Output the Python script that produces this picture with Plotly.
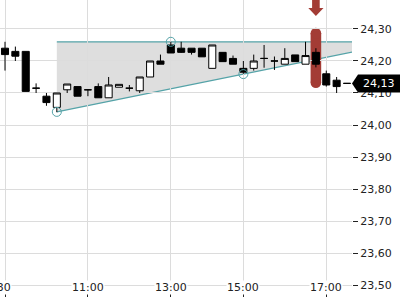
import plotly.graph_objects as go

# ---- data ----
bar_idx = list(range(34))
opens  = [24.24, 24.23, 24.23, 24.115, 24.09, 24.055, 24.11, 24.12, 24.11, 24.12,
          24.085, 24.118, 24.115, 24.107, 24.15, 24.20, 24.25, 24.24, 24.24, 24.24,
          24.177, 24.227, 24.208, 24.177, 24.177, 24.208, 24.20, 24.19, 24.219, 24.19,
          24.227, 24.16, 24.14, 24.13]
highs  = [24.26, 24.245, 24.23, 24.13, 24.10, 24.10, 24.128, 24.12, 24.11, 24.13,
          24.15, 24.127, 24.125, 24.15, 24.20, 24.22, 24.26, 24.26, 24.24, 24.24,
          24.25, 24.227, 24.217, 24.20, 24.22, 24.25, 24.214, 24.24, 24.219, 24.26,
          24.24, 24.17, 24.15, 24.13]
lows   = [24.17, 24.20, 24.105, 24.10, 24.06, 24.04, 24.10, 24.09, 24.09, 24.085,
          24.085, 24.118, 24.105, 24.10, 24.15, 24.19, 24.225, 24.225, 24.22, 24.213,
          24.177, 24.198, 24.19, 24.16, 24.17, 24.179, 24.172, 24.19, 24.198, 24.19,
          24.18, 24.12, 24.10, 24.13]
closes = [24.22, 24.215, 24.105, 24.115, 24.07, 24.10, 24.128, 24.09, 24.11, 24.085,
          24.125, 24.127, 24.115, 24.15, 24.20, 24.19, 24.225, 24.227, 24.227, 24.213,
          24.25, 24.198, 24.19, 24.165, 24.20, 24.208, 24.20, 24.208, 24.198, 24.217,
          24.19, 24.125, 24.12, 24.13]

tick_idx  = [0, 8, 16, 23, 31]
tick_text = ["09:30", "11:00", "13:00", "15:00", "17:00"]

# triangle pattern pivots
pivot_idx = [5, 16, 23]
pivot_val = [24.041, 24.26, 24.159]

# highlighted bar
hl_idx = 30
hl_top = 24.287
hl_bottom = 24.132

last_price = closes[-1]

TEAL = "#55a3a8"
RED = "#a33c35"
FONT = "DejaVu Sans"

x_range = [-0.483, 33.483]
y_range = [23.4625, 24.3906]

fig = go.Figure()

fig.add_trace(go.Candlestick(
    x=bar_idx, open=opens, high=highs, low=lows, close=closes,
    increasing=dict(fillcolor="white", line=dict(color="black", width=1)),
    decreasing=dict(fillcolor="black", line=dict(color="black", width=1)),
    whiskerwidth=0, hoverinfo="skip", showlegend=False,
))

fig.add_trace(go.Scatter(
    x=pivot_idx, y=pivot_val, mode="markers",
    marker=dict(symbol="circle-open", size=9, color=TEAL, line=dict(width=1, color=TEAL)),
    hoverinfo="skip", showlegend=False,
))

# pattern geometry from pivots
slope = (pivot_val[2] - pivot_val[0]) / (pivot_idx[2] - pivot_idx[0])
x_end = x_range[1]
low_end = pivot_val[0] + slope * (x_end - pivot_idx[0])

shapes = []
shapes.append(dict(type="path", xref="x", yref="y", layer="below",
                   path=f"M {pivot_idx[0]},{pivot_val[1]} L {x_end},{pivot_val[1]} "
                        f"L {x_end},{low_end} L {pivot_idx[0]},{pivot_val[0]} Z",
                   fillcolor="rgba(0,0,0,0.13)", line=dict(width=0)))
shapes.append(dict(type="line", xref="x", yref="y", layer="below",
                   x0=pivot_idx[0], x1=x_end, y0=pivot_val[1], y1=pivot_val[1],
                   line=dict(color=TEAL, width=1.2)))
shapes.append(dict(type="line", xref="x", yref="y", layer="below",
                   x0=pivot_idx[0], x1=x_end, y0=pivot_val[0], y1=low_end,
                   line=dict(color=TEAL, width=1.2)))

# highlight pill
r = 5.3
shapes.append(dict(type="rect", xref="x", yref="y", layer="below",
                   xsizemode="pixel", xanchor=hl_idx, x0=-r, x1=r,
                   y0=hl_bottom, y1=hl_top, fillcolor=RED, line=dict(width=0)))
for yc in (hl_top, hl_bottom):
    shapes.append(dict(type="circle", xref="x", yref="y", layer="below",
                       xsizemode="pixel", ysizemode="pixel", xanchor=hl_idx, yanchor=yc,
                       x0=-r, x1=r, y0=-r, y1=r, fillcolor=RED, line=dict(width=0)))
# arrow
shapes.append(dict(type="path", xref="x", yref="paper", layer="above",
                   xsizemode="pixel", ysizemode="pixel", xanchor=hl_idx, yanchor=1,
                   path="M -3.8,2 L 3.8,2 L 3.8,-8 L 7.6,-8 L 0,-16 L -7.6,-8 L -3.8,-8 Z",
                   fillcolor=RED, line=dict(width=0)))
# last price tag
shapes.append(dict(type="path", xref="paper", yref="y", layer="above",
                   xsizemode="pixel", ysizemode="pixel", xanchor=1, yanchor=last_price,
                   path="M 0,0 L 6,9 L 60,9 L 60,-9 L 6,-9 Z",
                   fillcolor="black", line=dict(width=0)))

annotations = []
for i, (ti, tt) in enumerate(zip(tick_idx, tick_text)):
    a = dict(x=ti, y=0, xref="x", yref="paper", yshift=10, yanchor="middle",
             text=tt, showarrow=False, bgcolor="white", borderpad=0,
             font=dict(family=FONT, size=11, color="#222"))
    if i == 0:
        a.update(xanchor="right", xshift=7)
    else:
        a.update(xanchor="center")
    annotations.append(a)
annotations.append(dict(x=1, xref="paper", y=last_price, yref="y", xanchor="left", xshift=9,
                        yanchor="middle", text=f"{last_price:.2f}".replace(".", ","),
                        showarrow=False, font=dict(family=FONT, size=11, color="white")))

fig.update_layout(
    width=400, height=300,
    margin=dict(l=0, r=48, t=0, b=3),
    paper_bgcolor="white", plot_bgcolor="white",
    separators=",.",
    shapes=shapes, annotations=annotations,
    font=dict(family=FONT, size=11, color="#222"),
    boxgap=0.32, boxgroupgap=0,
    showlegend=False,
)
fig.update_xaxes(range=x_range, rangeslider=dict(visible=False),
                 tickvals=tick_idx, showticklabels=False,
                 ticks="inside", ticklen=4, tickcolor="#222",
                 showgrid=True, gridcolor="#dcdcdc", gridwidth=1,
                 zeroline=False, showline=False, fixedrange=True)
fig.update_yaxes(range=y_range, side="right", dtick=0.1, tick0=23.5, tickformat=".2f",
                 ticks="outside", ticklen=5, tickcolor="#222",
                 showgrid=True, gridcolor="#dcdcdc", gridwidth=1,
                 zeroline=False, showline=False, fixedrange=True,
                 tickfont=dict(family=FONT, size=11, color="#222"))

fig.write_html("out.html")
